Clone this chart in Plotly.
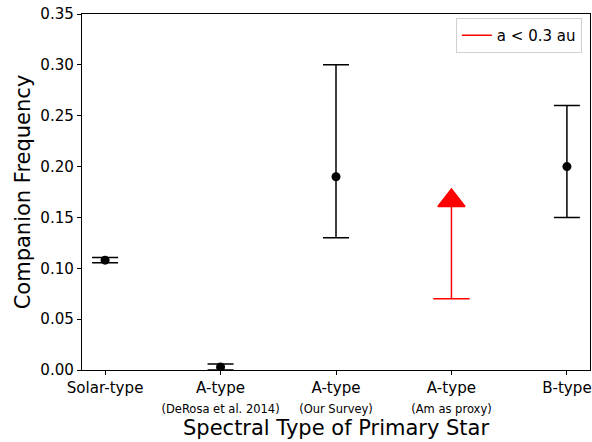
import plotly.graph_objects as go

# Data
categories = ["Solar-type", "A-type (DeRosa)", "A-type (Our Survey)", "A-type (Am)", "B-type"]
tick_main = ["Solar-type", "A-type", "A-type", "A-type", "B-type"]
tick_sub = ["", "(DeRosa et al. 2014)", "(Our Survey)", "(Am as proxy)", ""]
cat_pos = [0, 1, 2, 4]
freq = [0.108, 0.003, 0.19, 0.20]
err_plus = [0.0025, 0.003, 0.11, 0.06]
err_minus = [0.0025, 0.003, 0.06, 0.05]

am_pos = 3
am_lower = 0.07
am_arrow = 0.1665
legend_label = "a < 0.3 au"

yticks = [0.0, 0.05, 0.10, 0.15, 0.20, 0.25, 0.30, 0.35]

ticktext = []
for m, s in zip(tick_main, tick_sub):
    if s:
        ticktext.append(f"{m}<br><span style='font-size:11.5px'>{s}</span>")
    else:
        ticktext.append(f"{m}<br> ")

FONT = "DejaVu Sans"

fig = go.Figure()

fig.add_trace(go.Scatter(
    x=cat_pos, y=freq, mode="markers",
    marker=dict(color="black", size=9, opacity=1),
    error_y=dict(type="data", symmetric=False, array=err_plus, arrayminus=err_minus,
                 color="black", thickness=1.5, width=13),
    showlegend=False,
))

fig.add_trace(go.Scatter(
    x=[am_pos, am_pos], y=[am_lower, am_arrow], mode="lines",
    line=dict(color="#ff0000", width=1.5),
    name=legend_label, showlegend=True,
))
fig.add_trace(go.Scatter(
    x=[am_pos, am_pos], y=[am_lower, am_arrow], mode="markers",
    marker=dict(symbol=["line-ew", "triangle-up"], size=[26, 23.5], color="#ff0000",
                opacity=1, line=dict(color="#ff0000", width=1.5)),
    showlegend=False, hoverinfo="skip",
))

fig.add_annotation(
    text="Spectral Type of Primary Star", xref="paper", yref="paper",
    x=0.5, y=-0.163, xanchor="center", yanchor="middle", showarrow=False,
    font=dict(size=21, family=FONT, color="black"),
)

fig.update_layout(
    template="none",
    width=592, height=442,
    margin=dict(l=82, r=2, t=14, b=72, autoexpand=False),
    paper_bgcolor="white", plot_bgcolor="white",
    font=dict(family=FONT, size=15.1, color="black"),
    legend=dict(x=0.984, y=0.989, xanchor="right", yanchor="top",
                bordercolor="#d0d0d0", borderwidth=1, bgcolor="rgba(255,255,255,0.8)",
                font=dict(size=15), tracegroupgap=0),
    xaxis=dict(
        range=[-0.2, 4.2], tickmode="array", tickvals=[0, 1, 2, 3, 4], ticktext=ticktext,
        showgrid=False, zeroline=False, showline=True, linecolor="black", linewidth=1,
        mirror=True, ticks="outside", ticklen=4, tickcolor="black", automargin=False,
        ticklabeloverflow="allow",
    ),
    yaxis=dict(
        range=[0, 0.35], tickmode="array", tickvals=yticks,
        ticktext=[f"{v:.2f}" for v in yticks],
        showgrid=False, zeroline=False, showline=True, linecolor="black", linewidth=1,
        mirror=True, ticks="outside", ticklen=4, tickcolor="black", automargin=False,
        ticklabeloverflow="allow",
        title=dict(text="Companion Frequency", font=dict(size=21)),
    ),
)

fig.write_html("out.html", config={"displayModeBar": False},
               post_script="document.body.style.margin='0';document.body.style.overflow='hidden';")
